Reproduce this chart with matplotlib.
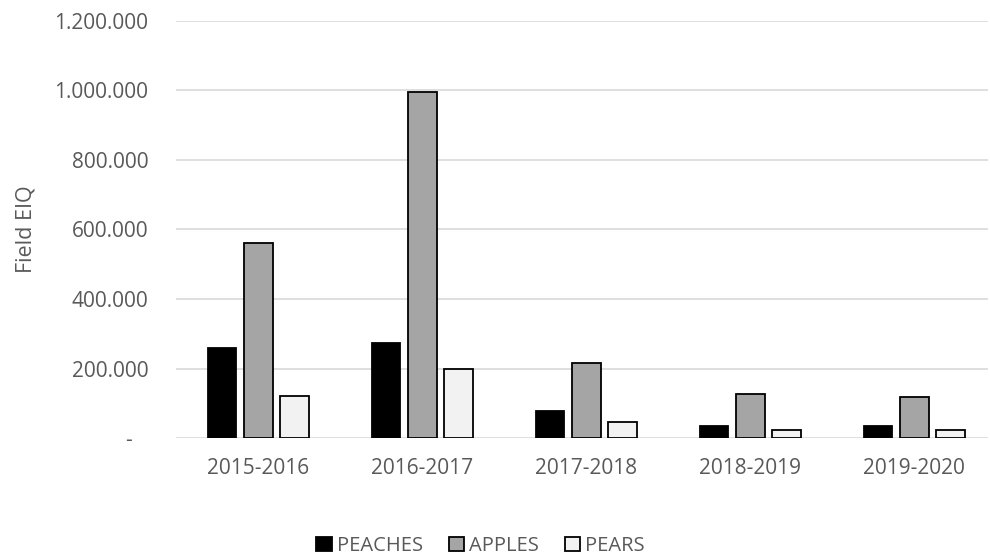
import numpy as np
import matplotlib
matplotlib.use('Agg')
import matplotlib.pyplot as plt
from matplotlib.ticker import FuncFormatter

plt.rcParams['font.family'] = ['Open Sans', 'DejaVu Sans']

# Field EIQ per crop and season
seasons = ['2015-2016', '2016-2017', '2017-2018', '2018-2019', '2019-2020']
peaches = [261000, 274000, 79000, 35000, 36000]
apples = [560000, 995000, 218000, 128000, 118000]
pears = [122000, 200000, 48000, 24000, 25000]

series = [('PEACHES', peaches, '#000000', '#000000'),
          ('APPLES', apples, '#a5a5a5', '#000000'),
          ('PEARS', pears, '#f2f2f2', '#000000')]

text_col = '#595959'

fig = plt.figure(figsize=(9.9, 5.55), dpi=100)
ax = fig.add_axes([0.178, 0.21, 0.82, 0.753])

x = np.arange(len(seasons))
width = 0.175
step = 0.22
for i, (name, vals, fc, ec) in enumerate(series):
    ax.bar(x + (i - 1) * step, vals, width, color=fc, edgecolor=ec,
           linewidth=1.3, label=name, zorder=3)

ax.set_xlim(-0.5, 4.45)
ax.set_ylim(0, 1200000)
ax.set_yticks(np.arange(0, 1200001, 200000))


def fmt(v, pos):
    # accounting style: dash for zero, dots as thousands separator
    if v == 0:
        return '-   '
    return f'{int(v):,}'.replace(',', '.')


ax.yaxis.set_major_formatter(FuncFormatter(fmt))
ax.set_xticks(x)
ax.set_xticklabels(seasons)

ax.grid(axis='y', color='#d9d9d9', linewidth=1.2, zorder=0)
for s in ax.spines.values():
    s.set_visible(False)
ax.tick_params(axis='both', length=0, labelsize=15, colors=text_col)
ax.tick_params(axis='y', pad=20)
ax.tick_params(axis='x', pad=14)

ax.set_ylabel('Field EIQ', fontsize=15.5, color=text_col, labelpad=13)

ax.legend(loc='upper center', bbox_to_anchor=(0.375, -0.19), ncol=3,
          frameon=False, fontsize=14.5, labelcolor=text_col,
          handlelength=0.75, handleheight=0.75, handletextpad=0.25,
          columnspacing=1.3)

fig.savefig('out.png', dpi=100)
